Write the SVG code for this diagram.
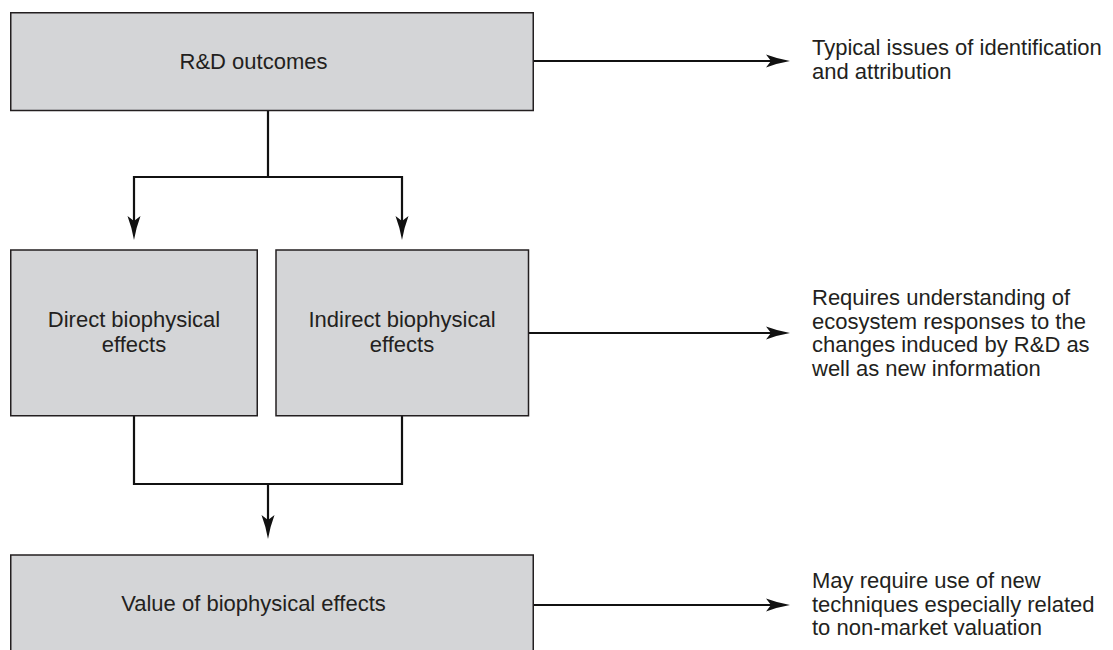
<svg xmlns="http://www.w3.org/2000/svg" width="1113" height="650" viewBox="0 0 1113 650">
  <style>
    .box { fill: #d4d5d7; stroke: #231f20; stroke-width: 1.5; }
    .lbl { font-family: "Liberation Sans", Arial, sans-serif; font-size: 22px; fill: #231f20; }
    .mid { text-anchor: middle; }
    .wire { fill: none; stroke: #111; stroke-width: 2.2; stroke-linejoin: miter; }
  </style>
  <defs>
    <!-- concave arrowhead, tip sits 12px beyond the path end -->
    <marker id="head" viewBox="-13 -8 26 16" refX="0" refY="0" markerWidth="26" markerHeight="16" markerUnits="userSpaceOnUse" orient="auto">
      <path d="M12,0 Q0,-2 -12,-6.5 L-7,0 L-12,6.5 Q0,2 12,0 Z" fill="#111"/>
    </marker>
  </defs>

  <g id="connectors">
    <path class="wire" d="M268,111 V177 H134 V228" marker-end="url(#head)"/>
    <path class="wire" d="M268,177 H402 V228" marker-end="url(#head)"/>
    <path class="wire" d="M134,416 V484 H402 V416"/>
    <path class="wire" d="M268,484 V527" marker-end="url(#head)"/>
    <path class="wire" d="M533,61 H778" marker-end="url(#head)"/>
    <path class="wire" d="M528.5,333 H778" marker-end="url(#head)"/>
    <path class="wire" d="M533,605 H778" marker-end="url(#head)"/>
  </g>

  <g id="rd-outcomes">
    <rect class="box" x="10.75" y="12.75" width="522.5" height="97.75"/>
    <text class="lbl mid" x="253.5" y="69">R&amp;D outcomes</text>
  </g>

  <g id="direct-effects">
    <rect class="box" x="10.75" y="250" width="246.5" height="165.75"/>
    <text class="lbl mid" x="134" y="327">Direct biophysical</text>
    <text class="lbl mid" x="134" y="352">effects</text>
  </g>

  <g id="indirect-effects">
    <rect class="box" x="276" y="250" width="252.5" height="165.75"/>
    <text class="lbl mid" x="402" y="327">Indirect biophysical</text>
    <text class="lbl mid" x="402" y="352">effects</text>
  </g>

  <g id="value-effects">
    <rect class="box" x="10.75" y="555" width="522.5" height="110"/>
    <text class="lbl mid" x="253.5" y="611">Value of biophysical effects</text>
  </g>

  <g id="note-identification">
    <text class="lbl" x="812" y="55">Typical issues of identification</text>
    <text class="lbl" x="812" y="78.5">and attribution</text>
  </g>

  <g id="note-ecosystem">
    <text class="lbl" x="812" y="305">Requires understanding of</text>
    <text class="lbl" x="812" y="328.5">ecosystem responses to the</text>
    <text class="lbl" x="812" y="352">changes induced by R&amp;D as</text>
    <text class="lbl" x="812" y="375.5">well as new information</text>
  </g>

  <g id="note-valuation">
    <text class="lbl" x="812" y="588">May require use of new</text>
    <text class="lbl" x="812" y="611.5">techniques especially related</text>
    <text class="lbl" x="812" y="635">to non-market valuation</text>
  </g>
</svg>
